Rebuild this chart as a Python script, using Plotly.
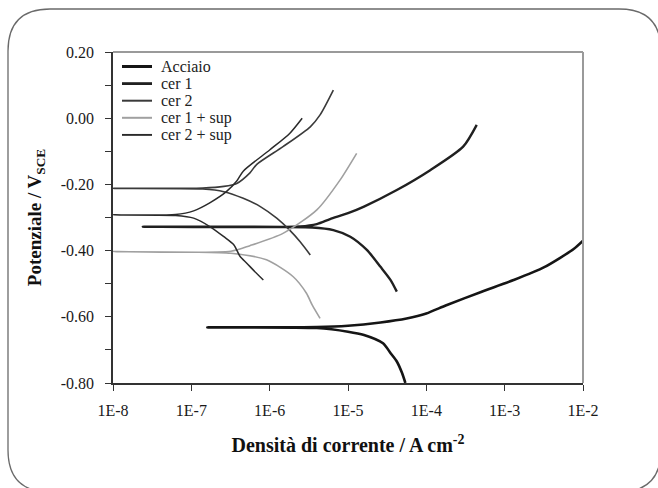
import plotly.graph_objects as go

# ---------------- data ----------------
series_names = ["Acciaio", "cer 1", "cer 2", "cer 1 + sup", "cer 2 + sup"]

acciaio_i = [5.4e-5, 4.9e-5, 4.2e-5, 3.5e-5, 2.8e-5, 1.6e-5, 1.0e-5, 4.0e-6, 1.6e-7,
             4.0e-6, 1.0e-5, 2.6e-5, 5.6e-5, 1.0e-4, 1.8e-4, 5.0e-4, 1.3e-3, 3.2e-3, 7.6e-3, 1.0e-2]
acciaio_e = [-0.80, -0.77, -0.735, -0.71, -0.68, -0.655, -0.645, -0.634, -0.632,
             -0.631, -0.627, -0.617, -0.605, -0.590, -0.565, -0.525, -0.489, -0.450, -0.395, -0.370]

cer1_i = [4.2e-5, 3.5e-5, 2.6e-5, 1.74e-5, 1.07e-5, 6.5e-6, 3.5e-6, 2.4e-8,
          2.45e-6, 4.0e-6, 5.9e-6, 1.0e-5, 1.6e-5, 4.2e-5, 1.12e-4, 2.95e-4, 4.4e-4]
cer1_e = [-0.524, -0.489, -0.449, -0.398, -0.358, -0.338, -0.330, -0.328,
          -0.327, -0.320, -0.305, -0.287, -0.267, -0.217, -0.157, -0.086, -0.020]

cer2_i = [3.3e-6, 2.45e-6, 1.8e-6, 1.23e-6, 7.6e-7, 4.6e-7, 2.6e-7, 1.4e-7, 1.0e-8,
          1.4e-7, 2.6e-7, 3.8e-7, 5.6e-7, 6.8e-7, 1.48e-6, 3.3e-6, 4.4e-6, 6.5e-6]
cer2_e = [-0.413, -0.373, -0.338, -0.302, -0.267, -0.242, -0.222, -0.214, -0.212,
          -0.211, -0.206, -0.197, -0.165, -0.140, -0.086, -0.026, 0.010, 0.085]

cer1sup_i = [4.4e-6, 3.5e-6, 2.95e-6, 2.0e-6, 9.1e-7, 3.2e-7, 1.0e-8,
             3.2e-7, 5.6e-7, 1.48e-6, 4.0e-6, 7.9e-6, 1.29e-5]
cer1sup_e = [-0.605, -0.565, -0.529, -0.479, -0.428, -0.408, -0.403,
             -0.402, -0.385, -0.348, -0.277, -0.187, -0.106]

cer2sup_i = [8.3e-7, 6.2e-7, 5.1e-7, 4.2e-7, 3.5e-7, 2.6e-7, 1.74e-7, 1.07e-7, 6.3e-8, 1.0e-8,
             6.3e-8, 1.07e-7, 1.74e-7, 2.8e-7, 3.8e-7, 4.6e-7, 1.0e-6, 1.8e-6, 2.6e-6]
cer2sup_e = [-0.489, -0.459, -0.438, -0.418, -0.383, -0.358, -0.328, -0.302, -0.294, -0.292,
             -0.291, -0.280, -0.255, -0.222, -0.190, -0.160, -0.096, -0.046, 0.000]

x_tickvals = [1e-8, 1e-7, 1e-6, 1e-5, 1e-4, 1e-3, 1e-2]
x_ticktext = ["1E-8", "1E-7", "1E-6", "1E-5", "1E-4", "1E-3", "1E-2"]
y_tickvals = [0.20, 0.00, -0.20, -0.40, -0.60, -0.80]
y_ticktext = ["0.20", "0.00", "-0.20", "-0.40", "-0.60", "-0.80"]

# ---------------- styling ----------------
W, H = 658, 488
ML, MR, MT, MB = 113, 75, 52, 105
PW, PH = W - ML - MR, H - MT - MB
SERIF = "Liberation Serif"

styles = [
    dict(color="#151515", width=2.6),
    dict(color="#202020", width=2.4),
    dict(color="#3a3a3a", width=1.6),
    dict(color="#a0a0a0", width=1.6),
    dict(color="#2a2a2a", width=1.5),
]
data = [(acciaio_i, acciaio_e), (cer1_i, cer1_e), (cer2_i, cer2_e),
        (cer1sup_i, cer1sup_e), (cer2sup_i, cer2sup_e)]

fig = go.Figure()
for name, (xi, ye), st in zip(series_names, data, styles):
    fig.add_trace(go.Scatter(x=xi, y=ye, mode="lines", name=name, showlegend=False,
                             line=dict(color=st["color"], width=st["width"],
                                       shape="spline", smoothing=0.7)))


def px(x):
    return (x - ML) / PW


def py(y):
    return (MT + PH - y) / PH


# outer rounded border (pixel coords -> paper)
L, T, R, B, r = 8, 9, 661, 492, 42
path = (f"M {px(L+r)},{py(T)} L {px(R-r)},{py(T)} Q {px(R)},{py(T)} {px(R)},{py(T+r)} "
        f"L {px(R)},{py(B-r)} Q {px(R)},{py(B)} {px(R-r)},{py(B)} "
        f"L {px(L+r)},{py(B)} Q {px(L)},{py(B)} {px(L)},{py(B-r)} "
        f"L {px(L)},{py(T+r)} Q {px(L)},{py(T)} {px(L+r)},{py(T)} Z")

shapes = [
    dict(type="path", xref="paper", yref="paper", path=path,
         line=dict(color="#6a6a6a", width=1.3), layer="below"),
    dict(type="line", xref="paper", yref="paper", x0=0, x1=1, y0=1, y1=1,
         line=dict(color="#9a9a9a", width=2)),
    dict(type="line", xref="paper", yref="paper", x0=1, x1=1, y0=0, y1=1,
         line=dict(color="#9a9a9a", width=2)),
]

# legend drawn inside the plot, top-left (rows 17 px apart)
annotations = []
row0, gap = 66.5, 17.1
for k, (name, st) in enumerate(zip(series_names, styles)):
    yy = row0 + k * gap
    shapes.append(dict(type="line", xref="paper", yref="paper",
                       x0=px(122), x1=px(152), y0=py(yy), y1=py(yy),
                       line=dict(color=st["color"], width=st["width"] + 0.4)))
    annotations.append(dict(xref="paper", yref="paper", x=px(160), y=py(yy),
                            xanchor="left", yanchor="middle", showarrow=False,
                            borderpad=0,
                            text=name, font=dict(family=SERIF, size=16, color="#222")))

fig.update_layout(
    width=W, height=H,
    margin=dict(l=ML, r=MR, t=MT, b=MB),
    paper_bgcolor="white", plot_bgcolor="white",
    font=dict(family=SERIF, color="#222"),
    shapes=shapes, annotations=annotations,
    showlegend=False,
    xaxis=dict(type="log", range=[-8, -2], tickvals=x_tickvals, ticktext=x_ticktext,
               showgrid=False, zeroline=False, showline=True, linecolor="#333", linewidth=1.5,
               ticks="outside", ticklen=6, tickcolor="#333", tickwidth=1.2,
               ticklabelstandoff=6,
               tickfont=dict(family=SERIF, size=16, color="#1a1a1a"),
               title=dict(text="<b>Densità di corrente / A cm<sup>-2</sup></b>",
                          font=dict(family=SERIF, size=20, color="#111"), standoff=20)),
    yaxis=dict(range=[-0.8, 0.2], tickvals=y_tickvals, ticktext=y_ticktext,
               showgrid=False, zeroline=False, showline=True, linecolor="#333", linewidth=1.5,
               ticks="outside", ticklen=6, tickcolor="#333", tickwidth=1.2,
               ticklabelstandoff=8,
               minor=dict(ticks="outside", ticklen=6, tickcolor="#333", dtick=0.1, showgrid=False),
               tickfont=dict(family=SERIF, size=16, color="#1a1a1a"),
               title=dict(text="<b>Potenziale / V<sub>SCE</sub></b>",
                          font=dict(family=SERIF, size=19, color="#111"), standoff=14)),
)

fig.write_html("out.html")
